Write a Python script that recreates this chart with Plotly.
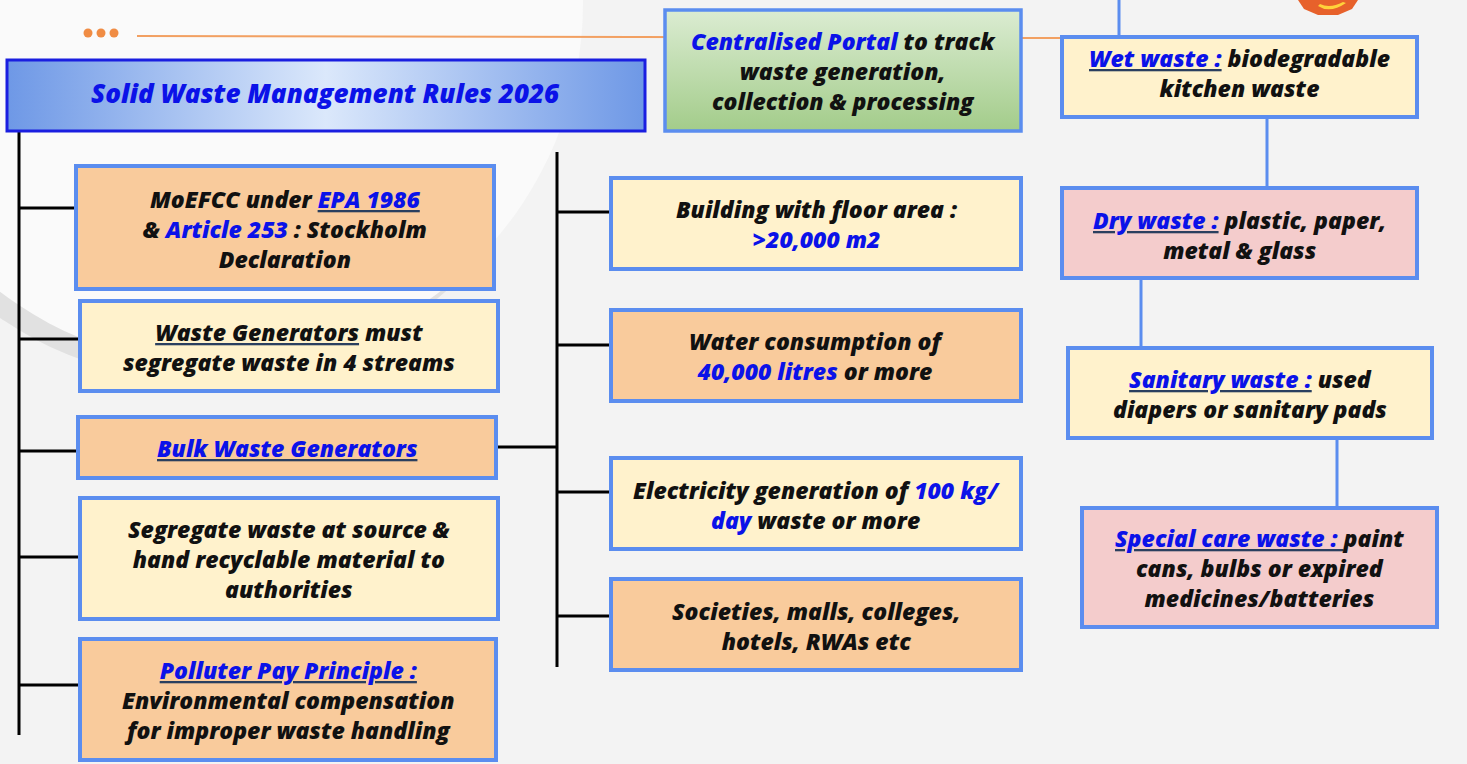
import plotly.graph_objects as go

W, H = 1467, 764
FONT = "Open Sans"
FS = 23
FW = 800
BLUE = "#0b12e8"
BLACK = "#111111"
BORDER = "#5b8def"
CREAM = "#fff2cc"
ORANGE = "#f9cb9c"
PINK = "#f4cccc"

# ---------------- content (text) ----------------
title_text = "Solid Waste Management Rules 2026"

portal_lines = [
    [("Centralised Portal", "b"), (" to track", "k")],
    [("waste generation,", "k")],
    [("collection & processing", "k")],
]

left_texts = [
    [[("MoEFCC under ", "k"), ("EPA 1986", "bu")],
     [("& ", "k"), ("Article 253", "b"), (" : Stockholm", "k")],
     [("Declaration", "k")]],
    [[("Waste Generators", "ku"), (" must", "k")],
     [("segregate waste in 4 streams", "k")]],
    [[("Bulk Waste Generators", "bu")]],
    [[("Segregate waste at source &", "k")],
     [("hand recyclable material to", "k")],
     [("authorities", "k")]],
    [[("Polluter Pay Principle :", "bu")],
     [("Environmental compensation", "k")],
     [("for improper waste handling", "k")]],
]

mid_texts = [
    [[("Building with floor area :", "k")], [(">20,000 m2", "b")]],
    [[("Water consumption of", "k")], [("40,000 litres", "b"), (" or more", "k")]],
    [[("Electricity generation of ", "k"), ("100 kg/", "b")],
     [("day", "b"), (" waste or more", "k")]],
    [[("Societies, malls, colleges,", "k")], [("hotels, RWAs etc", "k")]],
]

right_texts = [
    [[("Wet waste :", "bu"), (" biodegradable", "k")], [("kitchen waste", "k")]],
    [[("Dry waste :", "bu"), (" plastic, paper,", "k")], [("metal & glass", "k")]],
    [[("Sanitary waste :", "bu"), (" used", "k")], [("diapers or sanitary pads", "k")]],
    [[("Special care waste : ", "bu"), ("paint", "k")],
     [("cans, bulbs or expired", "k")],
     [("medicines/batteries", "k")]],
]

# ---------------- layout geometry ----------------
title_rect = (7, 60, 645, 131)
portal_rect = (665, 10, 1021, 131)
portal_text_y = 71

left_rects = [(76, 166, 494, 289), (80, 301, 498, 391), (78, 417, 496, 478),
              (80, 498, 498, 619), (80, 639, 496, 760)]
left_fills = [ORANGE, CREAM, ORANGE, CREAM, ORANGE]
left_text_y = [229, 346.5, 448, 559, 700]
left_conn_y = [208, 339, 451, 557, 685]
left_spine = (19, 131, 735)

mid_rects = [(611, 178, 1021, 269), (611, 310, 1021, 401),
             (611, 458, 1021, 549), (611, 579, 1021, 670)]
mid_fills = [CREAM, ORANGE, CREAM, ORANGE]
mid_text_y = [224, 355.5, 504.5, 625.5]
mid_conn_y = [212, 345, 492, 616]
mid_spine = (557, 152, 667)
bulk_link_y = 447

right_rects = [(1062, 37, 1417, 117), (1062, 188, 1417, 278),
               (1068, 348, 1432, 438), (1082, 508, 1437, 627)]
right_fills = [CREAM, PINK, CREAM, PINK]
right_text_y = [72.5, 234.5, 394, 568]
right_links = [(1119, 0, 37), (1267, 117, 188), (1141, 278, 348), (1337, 438, 508)]


def rich_line(segs):
    out = []
    for txt, st in segs:
        txt = txt.replace("&", "&amp;").replace(">", "&gt;")
        col = BLUE if st.startswith("b") else BLACK
        s = f'<span style="color:{col}">{txt}</span>'
        if st.endswith("u"):
            s = f"<u>{s}</u>"
        out.append(s)
    return "".join(out)


def rich(lines):
    return "<br>".join(rich_line(l) for l in lines)


def tfont(size=FS):
    return dict(family=FONT, size=size, weight=FW, style="italic")


fig = go.Figure()
shapes = []
annotations = []

# background light disc with soft shadow
shapes.append(dict(type="circle", xref="x", yref="y", x0=220 - 363 - 14, y0=3 - 363 + 16,
                   x1=583 - 14, y1=366 + 16, fillcolor="rgba(0,0,0,0.07)",
                   line=dict(width=0), layer="below"))
shapes.append(dict(type="circle", xref="x", yref="y", x0=220 - 363, y0=3 - 363,
                   x1=583, y1=366, fillcolor="#fafafa", line=dict(width=0), layer="below"))

# orange decorative line + dots
shapes.append(dict(type="line", xref="x", yref="y", x0=137, y0=36, x1=1062, y1=38,
                   line=dict(color="#f2a062", width=2), layer="below"))
for dx in [88, 101, 114]:
    shapes.append(dict(type="circle", xref="x", yref="y", x0=dx - 4.5, y0=33 - 4.5,
                       x1=dx + 4.5, y1=33 + 4.5, fillcolor="#f08c44",
                       line=dict(width=0), layer="below"))

# logo fragment (top right)
shapes.append(dict(type="path", xref="x", yref="y",
                   path="M1298,0 L1358,0 L1352,9 L1338,15 L1318,15 L1304,9 Z",
                   fillcolor="#e7612b", line=dict(width=0), layer="below"))
shapes.append(dict(type="path", xref="x", yref="y",
                   path="M1318,6 Q1330,14 1346,3 L1343,2 Q1330,9 1320,4 Z",
                   fillcolor="#ffd23a", line=dict(width=0), layer="below"))

# gradient boxes
x0, y0, x1, y1 = title_rect
fig.add_trace(go.Scatter(x=[x0, x1, x1, x0, x0], y=[y0, y0, y1, y1, y0], mode="lines",
                         fill="toself", line=dict(width=0), hoverinfo="skip",
                         fillgradient=dict(type="horizontal",
                                           colorscale=[[0, "#6e98e6"], [0.5, "#dbe8fb"], [1, "#6e98e6"]]),
                         showlegend=False))
shapes.append(dict(type="rect", xref="x", yref="y", x0=x0, y0=y0, x1=x1, y1=y1,
                   line=dict(color="#1a1ee0", width=3), layer="above"))
annotations.append(dict(x=(x0 + x1) / 2 - 1, y=93, xref="x", yref="y", showarrow=False,
                        text=f'<span style="color:{BLUE}">{title_text}</span>',
                        font=tfont(26)))

x0, y0, x1, y1 = portal_rect
fig.add_trace(go.Scatter(x=[x0, x1, x1, x0, x0], y=[y0, y0, y1, y1, y0], mode="lines",
                         fill="toself", line=dict(width=0), hoverinfo="skip",
                         fillgradient=dict(type="vertical", start=y0, stop=y1,
                                           colorscale=[[0, "#dbecd2"], [1, "#a3cc8a"]]),
                         showlegend=False))
shapes.append(dict(type="rect", xref="x", yref="y", x0=x0, y0=y0, x1=x1, y1=y1,
                   line=dict(color=BORDER, width=3.5), layer="above"))
annotations.append(dict(x=(x0 + x1) / 2, y=portal_text_y, xref="x", yref="y", showarrow=False,
                        text=rich(portal_lines), font=tfont()))


def add_boxes(rects, fills, text_ys, texts):
    for (a, b, c, d), fc, ty, lines in zip(rects, fills, text_ys, texts):
        shapes.append(dict(type="rect", xref="x", yref="y", x0=a, y0=b, x1=c, y1=d,
                           fillcolor=fc, line=dict(color=BORDER, width=4), layer="above"))
        annotations.append(dict(x=(a + c) / 2, y=ty, xref="x", yref="y", showarrow=False,
                                text=rich(lines), font=tfont()))


add_boxes(left_rects, left_fills, left_text_y, left_texts)
add_boxes(mid_rects, mid_fills, mid_text_y, mid_texts)
add_boxes(right_rects, right_fills, right_text_y, right_texts)

# black connectors
sx, sy0, sy1 = left_spine
shapes.append(dict(type="line", xref="x", yref="y", x0=sx, y0=sy0, x1=sx, y1=sy1,
                   line=dict(color="black", width=3), layer="below"))
for (a, b, c, d), cy in zip(left_rects, left_conn_y):
    shapes.append(dict(type="line", xref="x", yref="y", x0=sx, y0=cy, x1=a, y1=cy,
                       line=dict(color="black", width=3), layer="below"))
mx, my0, my1 = mid_spine
shapes.append(dict(type="line", xref="x", yref="y", x0=mx, y0=my0, x1=mx, y1=my1,
                   line=dict(color="black", width=3), layer="below"))
for (a, b, c, d), cy in zip(mid_rects, mid_conn_y):
    shapes.append(dict(type="line", xref="x", yref="y", x0=mx, y0=cy, x1=a, y1=cy,
                       line=dict(color="black", width=3), layer="below"))
shapes.append(dict(type="line", xref="x", yref="y", x0=left_rects[2][2], y0=bulk_link_y,
                   x1=mx, y1=bulk_link_y, line=dict(color="black", width=3), layer="below"))

# blue connectors on the right
for lx, ly0, ly1 in right_links:
    shapes.append(dict(type="line", xref="x", yref="y", x0=lx, y0=ly0, x1=lx, y1=ly1,
                       line=dict(color=BORDER, width=3), layer="below"))

fig.update_layout(
    width=W, height=H, margin=dict(l=0, r=0, t=0, b=0),
    paper_bgcolor="#f3f3f3", plot_bgcolor="#f3f3f3",
    xaxis=dict(range=[0, W], visible=False, fixedrange=True),
    yaxis=dict(range=[H, 0], visible=False, fixedrange=True),
    shapes=shapes, annotations=annotations, showlegend=False,
)
fig.write_html("out.html", config={"displayModeBar": False},
               post_script="document.body.style.margin='0';document.body.style.background='#f3f3f3';")
